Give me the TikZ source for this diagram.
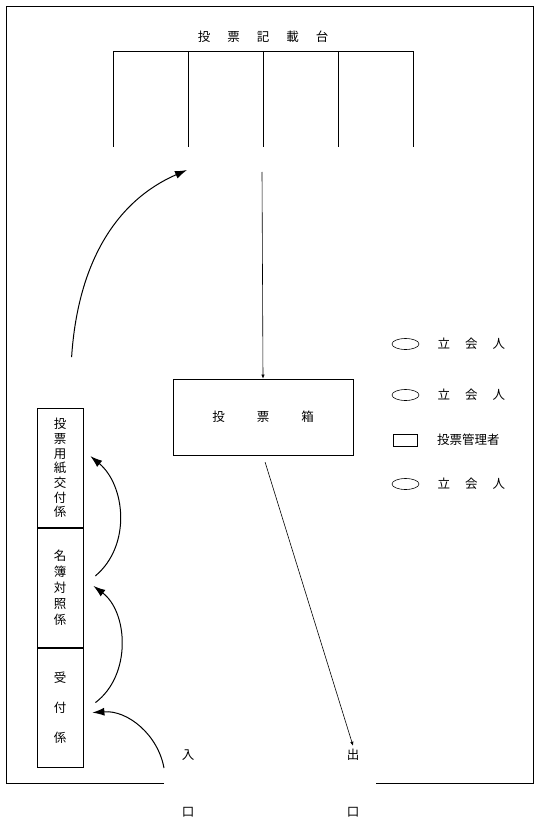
\documentclass[tikz,border=0pt]{standalone}
\usepackage{fontspec}
\setmainfont{Noto Sans CJK JP}
\usetikzlibrary{arrows.meta,calc,positioning,shapes.geometric}

\begin{document}
\begin{tikzpicture}[
    x=1pt, y=-1pt,
    font=\fontsize{12.5}{14}\selectfont,
    wall/.style={draw, line width=0.8pt},
    ballotbox/.style={draw, line width=0.8pt, minimum width=180pt, minimum height=76pt, inner sep=0pt},
    clerk/.style={draw, line width=0.8pt, minimum width=46pt, minimum height=119pt, inner sep=0pt, align=center},
    witness/.style={draw, ellipse, line width=0.6pt, minimum width=27pt, minimum height=11pt, inner sep=0pt},
    manager/.style={draw, rectangle, line width=0.6pt, minimum width=24pt, minimum height=12pt, inner sep=0pt},
    legendtext/.style={inner sep=0pt, anchor=west},
    flow/.style={-{Latex[length=12pt,width=8pt]}, line width=1pt},
    thinflow/.style={-{Latex[length=4pt,width=3.5pt]}, line width=0.6pt}
]
\useasboundingbox (0,0) rectangle (538,826);

% room
\draw[wall] (164,783) -- (6,783) -- (6,6) -- (533,6) -- (533,783) -- (376,783);

% desks
\node (desktitle) at (263,37) {投\hspace{17pt}票\hspace{17pt}記\hspace{17pt}載\hspace{17pt}台};
\draw[wall] (113,147) -- (113,51) -- (413,51) -- (413,147);
\foreach \x in {188,263,338}
  \draw[wall] (\x,51) -- (\x,147);

% ballot box
\node[ballotbox] (box) at (263,417) {投\hspace{32pt}票\hspace{32pt}箱};
\coordinate (deskout) at (262,172);

% clerks
\node[clerk, font=\fontsize{12.5}{14.7}\selectfont] (issue) at (60,468) {投\\票\\用\\紙\\交\\付\\係};
\node[clerk, font=\fontsize{12.5}{16}\selectfont, below=0pt of issue] (register) {名\\簿\\対\\照\\係};
\node[clerk, font=\fontsize{12.5}{30}\selectfont, below=0pt of register] (reception) {受\\付\\係};

% doors
\node (entry) at (188,755) {入};
\node (exit) at (353,755) {出};
\node (entrymouth) at (188,812) {口};
\node (exitmouth) at (353,812) {口};
\coordinate (door) at (164,768);

% legend
\node[witness] (w1) at (405.5,344) {};
\node[legendtext, right=18pt of w1] (w1text) {立\hspace{15pt}会\hspace{15pt}人};
\node[witness] (w2) at (405.5,395) {};
\node[legendtext, right=18pt of w2] (w2text) {立\hspace{15pt}会\hspace{15pt}人};
\node[manager] (m1) at (405.5,440) {};
\node[legendtext, right=19pt of m1] (m1text) {投票管理者};
\node[witness] (w3) at (405.5,484) {};
\node[legendtext, right=18pt of w3] (w3text) {立\hspace{15pt}会\hspace{15pt}人};

% flow
\draw[thinflow] (deskout) -- (box.north);
\draw[thinflow, shorten <=7pt] (box.south) -- (exit.north);
\draw[flow] (door) .. controls (158,735) and (128,710) .. ($(reception.east)+(9,5)$);
\draw[flow] ($(reception.east)+(12,-5)$) .. controls (132,675) and (128,612) .. ($(register.north east)+(10,58)$);
\draw[flow] ($(register.north east)+(12,48)$) .. controls (132,545) and (125,485) .. ($(issue.north east)+(7,48)$);
\draw[flow] ($(issue.north west)+(35,-51)$) .. controls (78,260) and (118,200) .. (187,170);
\end{tikzpicture}
\end{document}
